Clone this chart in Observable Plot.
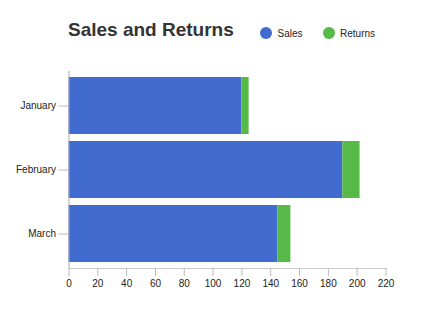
<!DOCTYPE html>
<html>
<head>
<meta charset="utf-8">
<script src="https://cdn.jsdelivr.net/npm/d3@7"></script>
<script src="https://cdn.jsdelivr.net/npm/@observablehq/plot@0.6"></script>
<style>
  body { margin: 0; background: #fff; font-family: "Liberation Sans", Arial, sans-serif; }
  #wrap { position: relative; width: 423px; height: 323px; }
  #title { position: absolute; left: 68px; top: 19px; font-size: 19px; font-weight: bold; color: #333; white-space: nowrap; }
  #legend { position: absolute; left: 260px; top: 27px; font-size: 10px; color: #222; display: flex; align-items: center; white-space: nowrap; }
  .item { display: flex; align-items: center; margin-right: 20px; }
  .dot { width: 12px; height: 12px; border-radius: 50%; margin-right: 5.5px; }
  svg { display: block; }
</style>
</head>
<body>
<div id="wrap">
  <div id="chart"></div>
  <div id="title">Sales and Returns</div>
  <div id="legend"></div>
</div>
<script>
const months = ["January", "February", "March"];
const sales = [120, 190, 145];
const returns = [5, 12, 9];
const seriesNames = ["Sales", "Returns"];
const seriesColors = ["#416bce", "#57b947"];
const xTicks = [0, 20, 40, 60, 80, 100, 120, 140, 160, 180, 200, 220];

const rows = [];
months.forEach((m, i) => {
  rows.push({month: m, series: "Sales", value: sales[i]});
  rows.push({month: m, series: "Returns", value: returns[i]});
});

const chart = Plot.plot({
  width: 423,
  height: 323,
  marginLeft: 68.5,
  marginRight: 37.5,
  marginTop: 71,
  marginBottom: 55,
  style: {fontFamily: "'Liberation Sans', Arial, sans-serif", fontSize: "10px", color: "#222", background: "#fff"},
  x: {domain: [0, 220], ticks: xTicks, tickSize: 8, tickPadding: 3, label: null},
  y: {domain: months, paddingInner: 0.11, paddingOuter: 0.094, tickSize: 10, tickPadding: 3, label: null},
  color: {domain: seriesNames, range: seriesColors},
  marks: [
    Plot.barX(rows, Plot.stackX({y: "month", x: "value", fill: "series", order: seriesNames})),
    Plot.frame({anchor: "bottom", stroke: "#ccc"}),
    Plot.ruleX([0], {stroke: "#aaa"}),
    Plot.axisX({ticks: xTicks, tickSize: 8, tickPadding: 3, stroke: "#bbb", fill: "#222"}),
    Plot.axisY({tickSize: 10, tickPadding: 3, stroke: "#bbb", fill: "#222"})
  ]
});
document.getElementById("chart").appendChild(chart);

const legend = document.getElementById("legend");
seriesNames.forEach((s, i) => {
  const item = document.createElement("div");
  item.className = "item";
  const dot = document.createElement("div");
  dot.className = "dot";
  dot.style.background = seriesColors[i];
  const label = document.createElement("span");
  label.textContent = s;
  item.appendChild(dot);
  item.appendChild(label);
  legend.appendChild(item);
});
</script>
</body>
</html>
